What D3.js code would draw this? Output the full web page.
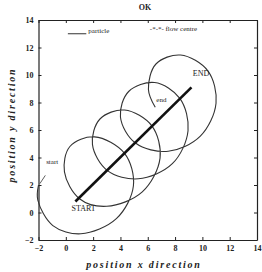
<!DOCTYPE html>
<meta charset="utf-8">
<script src="https://d3js.org/d3.v7.min.js"></script>
<style>
  body { margin: 0; background: #fff; }
  text { font-family: "Liberation Serif", "DejaVu Serif", serif; fill: #222; }
</style>
<body>
<div id="my_dataviz"></div>
<script>

// particle path (x, y)
var pathX = [-2.0, -2.05, -0.95, 1.1, 3.7, 4.95, 4.3, 2.1, 0.3, -0.1, 1.0, 3.0,
  5.6, 6.9, 6.3, 4.3, 2.5, 1.95, 3.05, 5.3, 7.8, 8.95, 8.35, 6.5, 4.6, 4.0,
  5.1, 7.5, 9.85, 11.0, 10.4, 8.4, 6.6, 6.05, 6.55];
var pathY = [2.0, 0.9, -0.95, -1.55, -0.45, 1.95, 4.3, 5.5, 4.8, 2.95, 1.0, 0.45,
  1.5, 3.95, 6.3, 7.45, 6.8, 4.95, 3.05, 2.45, 3.55, 5.95, 8.3, 9.45, 8.8, 6.95,
  5.05, 4.45, 5.55, 7.95, 10.3, 11.45, 10.8, 8.95, 7.65];

// flow centre (start, end)
var centreX = [0.7, 9.2];
var centreY = [0.8, 9.1];

var xTicks = [-2, 0, 2, 4, 6, 8, 10, 12, 14];
var yTicks = [-2, 0, 2, 4, 6, 8, 10, 12, 14];

var margin = { top: 20, right: 5, bottom: 32, left: 38.5 },
  width = 262 - margin.left - margin.right,
  height = 272 - margin.top - margin.bottom;

var svg = d3.select("#my_dataviz")
  .append("svg")
  .attr("width", 262)
  .attr("height", 272);

var g = svg.append("g")
  .attr("transform", "translate(" + margin.left + "," + margin.top + ")");

var x = d3.scaleLinear().domain([-2, 14]).range([0, width]);
var y = d3.scaleLinear().domain([-2, 14]).range([height, 0]);

// axes, ticks inside on every side
g.append("g")
  .attr("transform", "translate(0," + height + ")")
  .call(d3.axisBottom(x).tickValues(xTicks).tickSize(-3).tickPadding(5).tickSizeOuter(0));
g.append("g")
  .call(d3.axisTop(x).tickValues(xTicks).tickSize(-3).tickFormat("").tickSizeOuter(0));
g.append("g")
  .call(d3.axisLeft(y).tickValues(yTicks).tickSize(-3).tickPadding(5).tickSizeOuter(0));
g.append("g")
  .attr("transform", "translate(" + width + ",0)")
  .call(d3.axisRight(y).tickValues(yTicks).tickSize(-3).tickFormat("").tickSizeOuter(0));

g.selectAll(".domain").attr("stroke", "#222").attr("stroke-width", 1.2);
g.selectAll(".tick line").attr("stroke", "#222");
g.selectAll(".tick text")
  .style("font-family", "Liberation Serif, serif")
  .style("font-size", "8px")
  .style("font-weight", "bold")
  .attr("fill", "#222");

// particle path
var pts = pathX.map(function (d, i) { return [d, pathY[i]]; });
g.append("path")
  .datum(pts)
  .attr("fill", "none")
  .attr("stroke", "#333")
  .attr("stroke-width", 1.1)
  .attr("d", d3.line()
    .x(function (d) { return x(d[0]); })
    .y(function (d) { return y(d[1]); })
    .curve(d3.curveCatmullRom.alpha(0.5)));

// flow centre
g.append("line")
  .attr("x1", x(centreX[0])).attr("y1", y(centreY[0]))
  .attr("x2", x(centreX[1])).attr("y2", y(centreY[1]))
  .attr("stroke", "#111")
  .attr("stroke-width", 2.6);

// start pointer
g.append("line")
  .attr("x1", x(-1.5)).attr("y1", y(2.7))
  .attr("x2", x(-1.9)).attr("y2", y(2.1))
  .attr("stroke", "#333").attr("stroke-width", 0.8);

function label(tx, ty, s, size) {
  g.append("text")
    .attr("x", x(tx)).attr("y", y(ty))
    .attr("text-anchor", "middle")
    .style("font-size", size + "px")
    .text(s);
}
label(-1.0, 3.5, "start", 7);
label(1.3, 0.1, "START", 8);
label(7.0, 8.05, "end", 7);
label(9.9, 9.9, "END", 8);

// legend
g.append("line")
  .attr("x1", x(0.15)).attr("y1", y(13.0))
  .attr("x2", x(1.5)).attr("y2", y(13.0))
  .attr("stroke", "#333").attr("stroke-width", 1);
g.append("text").attr("x", x(1.65)).attr("y", y(13.05))
  .style("font-size", "7px").text("particle");
g.append("text").attr("x", x(6.15)).attr("y", y(13.2))
  .style("font-size", "7px").text("-*-*- flow centre");

// title and axis labels
svg.append("text")
  .attr("x", 145).attr("y", 10)
  .attr("text-anchor", "middle")
  .style("font-size", "8px").style("font-weight", "bold")
  .text("OK");

svg.append("text")
  .attr("x", 144).attr("y", 268)
  .attr("text-anchor", "middle")
  .style("font-size", "10px").style("font-weight", "bold").style("font-style", "italic")
  .style("letter-spacing", "1.8px")
  .text("position x direction");

svg.append("text")
  .attr("transform", "translate(15,125) rotate(-90)")
  .attr("text-anchor", "middle")
  .style("font-size", "10px").style("font-weight", "bold").style("font-style", "italic")
  .style("letter-spacing", "1.8px")
  .text("position y direction");

</script>
</body>
